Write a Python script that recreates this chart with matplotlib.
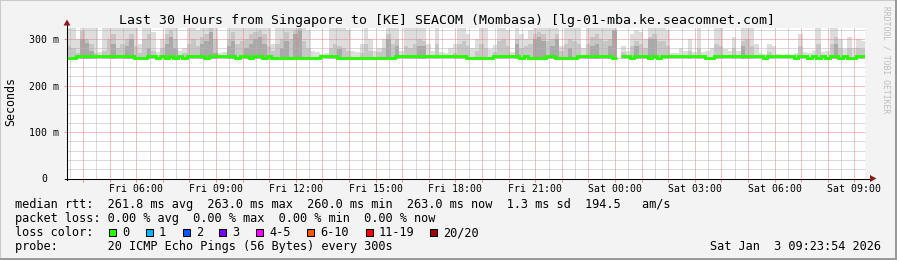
import numpy as np
import matplotlib
matplotlib.use('Agg')
import matplotlib.pyplot as plt
import matplotlib.dates as mdates
from matplotlib.ticker import MultipleLocator, FuncFormatter
from matplotlib.patches import Polygon, Rectangle
from matplotlib.lines import Line2D
import datetime as dt

nan = np.nan

# ---------------- data ----------------
start_time = dt.datetime(2026, 1, 2, 3, 23, 54)
step_minutes = 10

title = "Last 30 Hours from Singapore to [KE] SEACOM (Mombasa) [lg-01-mba.ke.seacomnet.com]"

# median rtt (ms) per 10-minute step
median_rtt = [
    260, 260, 263, 263, 263, 263, 263, 263, 263, 263,
    263, 263, 263, 263, 263, 260, 260, 260, 263, 263,
    260, 263, 260, 263, 260, 263, 260, 263, 263, 263,
    263, 260, 263, 263, 263, 263, 263, 263, 260, 263,
    263, 260, 263, 263, 260, 263, 260, 260, 260, 260,
    260, 260, 260, 260, 260, 260, 260, 263, 263, 263,
    263, 260, 260, 260, 260, 260, 260, 260, 260, 260,
    260, 260, 260, 260, 263, 263, 263, 263, 263, 263,
    263, 263, 263, 263, 263, 263, 263, 263, 263, 263,
    260, 260, 260, 260, 260, 260, 263, 263, 263, 263,
    263, 263, 260, 263, 260, 260, 260, 260, 263, 263,
    260, 260, 260, 260, 260, 263, 263, 263, 263, 263,
    263, 263, 263, 260, nan, 263, 263, 260, 263, 263,
    263, 260, 263, 260, 263, 263, 263, 263, 263, 263,
    263, 263, 263, 263, 260, 260, 263, 263, 263, 263,
    263, 263, 263, 263, 263, 263, 263, 260, 263, 263,
    263, 263, 263, 263, 260, 263, 263, 260, 263, 260,
    263, 260, 263, 263, 260, 263, 260, 260, 263, 263,
]

# smoke: highest ping (ms), light grey
smoke_max = [
    330, 330, 300, 330, 330, 330, 330, 272, 330, 330,
    330, 330, 330, 330, 330, 330, 290, 330, 330, 315,
    272, 300, 330, 330, 330, 275, 280, 330, 330, 320,
    330, 330, 330, 330, 270, 272, 330, 330, 330, 330,
    330, 330, 330, 330, 330, 330, 290, 330, 330, 330,
    330, 330, 330, 330, 320, 275, 272, 268, 270, 330,
    330, 330, 330, 320, 275, 272, 290, 330, 300, 275,
    280, 300, 330, 330, 330, 275, 330, 330, 330, 330,
    330, 290, 275, 330, 272, 270, 280, 290, 330, 330,
    310, 280, 300, 330, 330, 278, 288, 330, 330, 320,
    272, 330, 310, 300, 320, 330, 330, 330, 330, 330,
    330, 285, 330, 330, 330, 330, 280, 330, 330, 330,
    330, 330, 330, 330, nan, 285, 275, 310, 320, 315,
    300, 330, 330, 330, 330, 320, 270, 270, 280, 275,
    300, 272, 330, 272, 275, 280, 325, 325, 278, 275,
    305, 275, 330, 330, 325, 290, 270, 268, 290, 285,
    268, 266, 268, 266, 270, 310, 272, 270, 275, 330,
    272, 275, 330, 330, 300, 278, 305, 280, 300, 295,
]

# smoke: upper pings (ms), medium grey
smoke_mid = [
    285, 280, 270, 318, 300, 290, 270, nan, 275, 300,
    310, 280, 290, 300, 310, 285, 270, 300, 310, 275,
    nan, 280, 310, 320, 300, nan, 270, 290, 300, 285,
    305, 310, 325, 300, nan, nan, 300, 315, 290, 295,
    300, 310, 315, 320, 310, 285, 275, 290, 300, 315,
    300, 320, 325, 295, 280, nan, nan, nan, nan, 280,
    290, 285, 280, 275, nan, nan, 270, 290, 275, nan,
    272, 280, 310, 290, 300, nan, 285, 280, 290, 300,
    295, nan, nan, 290, nan, nan, nan, 270, 290, 295,
    285, nan, 275, 290, 280, nan, 272, 295, 300, 285,
    nan, 300, 280, 285, 290, 310, 315, 310, 295, 300,
    310, 275, 290, 300, 295, 290, nan, 290, 305, 310,
    300, 295, 300, 320, nan, 272, nan, 285, 295, 290,
    280, 305, 310, 295, 295, 285, nan, nan, nan, nan,
    275, nan, 280, nan, nan, nan, 290, 285, nan, nan,
    280, nan, 295, 300, 285, nan, nan, nan, 272, nan,
    nan, nan, nan, nan, nan, 285, nan, nan, nan, 290,
    nan, nan, 290, 305, 280, nan, 280, nan, 280, 278,
]

# smoke: pings close to the median cluster top (ms), dark grey
smoke_dark = [
    nan, nan, nan, 300, 292, 275, nan, nan, nan, nan,
    290, nan, nan, 285, 300, nan, nan, nan, 280, nan,
    nan, nan, 290, 305, 280, nan, nan, nan, nan, nan,
    290, 295, 315, 270, nan, nan, 285, 295, nan, nan,
    280, 290, 300, 305, 290, nan, nan, nan, 280, 295,
    nan, 310, 320, nan, nan, nan, nan, nan, nan, nan,
    nan, 278, nan, nan, nan, nan, nan, nan, nan, nan,
    nan, nan, 300, nan, 285, nan, nan, nan, nan, 285,
    285, nan, nan, nan, nan, nan, nan, nan, nan, nan,
    nan, nan, nan, nan, nan, nan, nan, nan, nan, nan,
    nan, 290, nan, nan, nan, 300, 305, 295, nan, 285,
    300, nan, nan, 280, nan, nan, nan, nan, 285, 290,
    nan, nan, 285, 320, nan, nan, nan, nan, 285, nan,
    nan, 300, 300, nan, nan, nan, nan, nan, nan, nan,
    nan, nan, nan, nan, nan, nan, nan, nan, nan, nan,
    nan, nan, 285, nan, nan, nan, nan, nan, nan, nan,
    nan, nan, nan, nan, nan, nan, nan, nan, nan, nan,
    nan, nan, nan, 290, nan, nan, nan, nan, nan, nan,
]

stats_line1 = "median rtt:  261.8 ms avg  263.0 ms max  260.0 ms min  263.0 ms now  1.3 ms sd  194.5   am/s"
stats_line2 = "packet loss: 0.00 % avg  0.00 % max  0.00 % min  0.00 % now"
loss_labels = ["0", "1", "2", "3", "4-5", "6-10", "11-19", "20/20"]
loss_colors = ["#26ff00", "#00b8ff", "#0059ff", "#7e00ff", "#ff00ff", "#ff5500", "#ff0000", "#a10000"]
probe_line = "probe:       20 ICMP Echo Pings (56 Bytes) every 300s"
date_line = "Sat Jan  3 09:23:54 2026"

# ---------------- figure ----------------
W, H, DPI = 897, 260, 100
MONO = "DejaVu Sans Mono"
plt.rcParams['font.family'] = MONO


def fx(px):
    return px / W


def fy(py):
    return 1 - py / H


fig = plt.figure(figsize=(W / DPI, H / DPI), dpi=DPI, facecolor="#F3F3F3")

# frame shading
fig.patches.append(Rectangle((0, 0), 1, 1, transform=fig.transFigure, fill=False,
                             edgecolor="#CBCBCB", linewidth=1.5, zorder=0))
fig.patches.append(Rectangle((fx(0), fy(260)), fx(897), 2 / H, transform=fig.transFigure,
                             facecolor="#999999", edgecolor="none", zorder=0))
fig.patches.append(Rectangle((fx(895), fy(260)), 2 / W, 1, transform=fig.transFigure,
                             facecolor="#999999", edgecolor="none", zorder=0))

X0, X1, YB, YT = 67, 865, 178.5, 27.5
ax = fig.add_axes([fx(X0), fy(YB), (X1 - X0) / W, (YB - YT) / H])
ax.set_facecolor("white")

n = len(median_rtt)
t0 = mdates.date2num(start_time)
edges = t0 + np.arange(n + 1) * step_minutes / 1440.0
base = 258.0


def prep(v):
    a = np.array(v, dtype=float)
    return np.where(np.isnan(a), base, a)


ax.stairs(prep(smoke_max), edges, baseline=base, fill=True, color="#DDDDDD", linewidth=0, zorder=1)
ax.stairs(prep(smoke_mid), edges, baseline=base, fill=True, color="#C6C6C6", linewidth=0, zorder=1.1)
ax.stairs(prep(smoke_dark), edges, baseline=base, fill=True, color="#A9A9A9", linewidth=0, zorder=1.2)
ax.stairs(np.array(median_rtt, dtype=float), edges, baseline=None, color="#26ff00",
          linewidth=2.1, zorder=3)

ax.set_xlim(edges[0], edges[-1])
ax.set_ylim(0, 325)

ax.xaxis.set_major_locator(mdates.HourLocator())
ax.xaxis.set_minor_locator(mdates.MinuteLocator(byminute=[30]))


def xfmt(v, pos):
    d = mdates.num2date(v)
    if d.hour % 3 == 0 and d.minute == 0:
        return d.strftime("%a %H:%M")
    return ""


ax.xaxis.set_major_formatter(FuncFormatter(xfmt))
ax.yaxis.set_major_locator(MultipleLocator(100))
ax.yaxis.set_minor_locator(MultipleLocator(20))
ax.yaxis.set_major_formatter(FuncFormatter(lambda v, p: "" if v == 0 else "%d m" % v))

ax.set_axisbelow(False)
ax.grid(which="minor", color="#B4B4B4", linestyle=(0, (1, 1)), linewidth=0.72, zorder=2)
ax.grid(which="major", color="#EE8080", linestyle=(0, (1, 1)), linewidth=0.72, zorder=2.1)

ax.tick_params(axis="x", which="major", length=2, width=0.72, color="#EE8E8E", pad=1.6,
               labelsize=7.1, labelcolor="black")
ax.tick_params(axis="x", which="minor", length=0)
ax.tick_params(axis="y", which="major", length=2, width=0.72, color="#EE8E8E", pad=3.6,
               labelsize=7.1, labelcolor="black")
ax.tick_params(axis="y", which="minor", length=0)

for s in ["top", "right", "left", "bottom"]:
    ax.spines[s].set_visible(False)

# axes lines with arrows (figure pixel space)
fig.add_artist(Line2D([fx(67), fx(67)], [fy(180), fy(23)], color="black", linewidth=0.75,
                      transform=fig.transFigure, zorder=5))
fig.add_artist(Line2D([fx(65), fx(871)], [fy(178.5), fy(178.5)], color="black", linewidth=0.75,
                      transform=fig.transFigure, zorder=5))
fig.add_artist(Polygon([[fx(63.5), fy(25.5)], [fx(70.5), fy(25.5)], [fx(67), fy(19.5)]],
                       closed=True, facecolor="#8B1A1A", edgecolor="none",
                       transform=fig.transFigure, zorder=6))
fig.add_artist(Polygon([[fx(870), fy(175)], [fx(870), fy(182)], [fx(876.5), fy(178.5)]],
                       closed=True, facecolor="#8B1A1A", edgecolor="none",
                       transform=fig.transFigure, zorder=6))

# "0" y label
fig.text(fx(47.5), fy(178.5), "0", ha="right", va="center", fontsize=7.1, color="black")

# title & axis label
fig.text(fx(447), fy(24), title, ha="center", va="baseline", fontsize=9.5, color="black")
fig.text(fx(11), fy(102), "Seconds", rotation=90, ha="center", va="center", fontsize=8.4,
         color="black")
fig.text(fx(886), fy(60), "RRDTOOL / TOBI OETIKER", rotation=270, ha="center", va="center",
         fontsize=5.8, color="#BDBDBD")

# legend lines
LS = 8.55
fig.text(fx(15), fy(208), stats_line1, ha="left", va="baseline", fontsize=LS)
fig.text(fx(15), fy(222), stats_line2, ha="left", va="baseline", fontsize=LS)
fig.text(fx(15), fy(236), "loss color:", ha="left", va="baseline", fontsize=LS)
sq_x = [109, 146, 183, 219, 256, 307, 366, 430]
lab_x = [122, 159, 196, 232, 269, 320, 379, 443]
for sx, lx, lab, col in zip(sq_x, lab_x, loss_labels, loss_colors):
    fig.patches.append(Rectangle((fx(sx), fy(236)), 7 / W, 7.5 / H, transform=fig.transFigure,
                                 facecolor=col, edgecolor="black", linewidth=0.75, zorder=5))
    fig.text(fx(lx), fy(236), lab, ha="left", va="baseline", fontsize=LS)
fig.text(fx(15), fy(250), probe_line, ha="left", va="baseline", fontsize=LS)
fig.text(fx(881), fy(250), date_line, ha="right", va="baseline", fontsize=LS)

fig.savefig("out.png", dpi=DPI, facecolor=fig.get_facecolor())
